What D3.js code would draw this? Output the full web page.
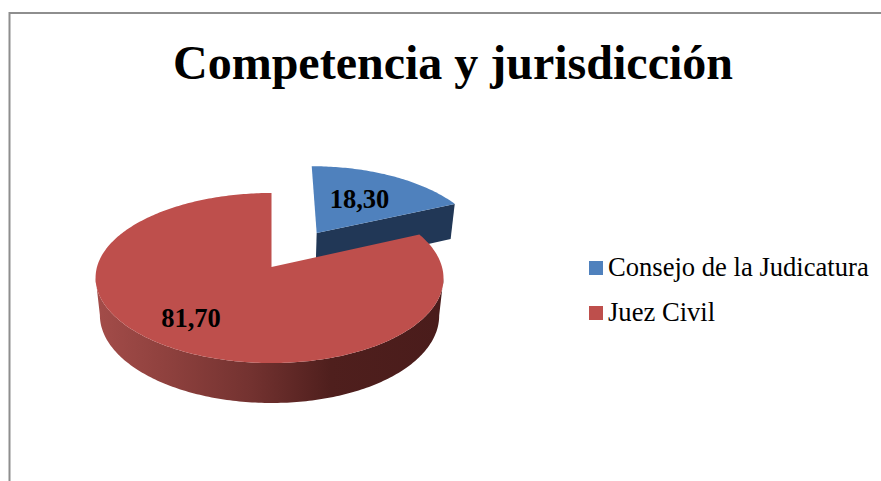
<!DOCTYPE html>
<html>
<head>
<meta charset="utf-8">
<script src="https://cdn.jsdelivr.net/npm/d3@7"></script>
<style>html,body{margin:0;padding:0;background:#fff;overflow:hidden}svg{display:block}text{font-family:"Liberation Serif",serif;fill:#000}</style>
</head>
<body>
<svg id="c" width="881" height="481"></svg>
<script>
const titleText = "Competencia y jurisdicción";
const categories = ["Consejo de la Judicatura", "Juez Civil"];
const values = [18.3, 81.7];
const valueLabels = ["18,30", "81,70"];
const topColors = ["#4F81BD", "#BE4F4C"];
const explode = [0.51, 0];

const svg = d3.select("#c");
const defs = svg.append("defs");
const grad = defs.append("linearGradient").attr("id", "redWall")
  .attr("gradientUnits", "userSpaceOnUse").attr("x1", 97).attr("x2", 440).attr("y1", 0).attr("y2", 0);
[[0, "#A34C49"], [0.2, "#8F413E"], [0.45, "#733230"], [0.68, "#4F1F1D"], [1, "#4A1C1B"]]
  .forEach(s => grad.append("stop").attr("offset", s[0]).attr("stop-color", s[1]));

// frame
svg.append("path").attr("d", "M9.5,481V13H881").attr("fill", "none").attr("stroke", "#8E8E8E").attr("stroke-width", 2);

// perspective projection of the pie plane
const x0 = 269.5, y0 = 267, cX = 172.5, aY = 83.6, persp = 0.1294, lower = 0.025, H = 38.2, skew = 2;
function project(X, Y, bottom) {
  const den = 1 + persp * Y + (bottom ? lower : 0);
  const s = skew * Math.max(0, 1 - X * X);
  return [x0 + s + cX * X / den, y0 + (-aY * Y + (bottom ? H : 0)) / den];
}

const pie = d3.pie().sort(null).startAngle(0).endAngle(2 * Math.PI);
const arcs = pie(values);
const line = d3.line();
function rim(d, ox, oy, bottom) {
  const n = Math.max(2, Math.ceil((d.endAngle - d.startAngle) * 60));
  return d3.range(n + 1).map(i => {
    const t = d.startAngle + (d.endAngle - d.startAngle) * i / n;
    return project(ox + Math.sin(t), oy + Math.cos(t), bottom);
  });
}
function offset(d, i) {
  const m = (d.startAngle + d.endAngle) / 2;
  return [explode[i] * Math.sin(m), explode[i] * Math.cos(m)];
}

// blue slice
(function () {
  const d = arcs[0], [ox, oy] = offset(d, 0);
  const top = rim(d, ox, oy, false), bot = rim(d, ox, oy, true);
  const endT = top[top.length - 1], endB = bot[bot.length - 1];
  svg.append("path").attr("d", line([project(ox, oy, false), endT, endB, project(ox, oy, true)]) + "Z").attr("fill", "#213756");
  svg.append("path").attr("d", line([project(ox, oy, false)].concat(top)) + "Z").attr("fill", topColors[0]);
})();

// red slice: the wall runs between the rim's rightmost and leftmost points
(function () {
  const d = arcs[1], [ox, oy] = offset(d, 1);
  const top = rim(d, ox, oy, false), bot = rim(d, ox, oy, true);
  const r = d3.greatestIndex(top, p => p[0]), l = d3.leastIndex(top, p => p[0]);
  const wall = top.slice(r, l + 1).concat(bot.slice(r, l + 1).reverse());
  svg.append("path").attr("d", line(wall) + "Z").attr("fill", "url(#redWall)");
  svg.append("path").attr("d", line([project(ox, oy, false)].concat(top)) + "Z").attr("fill", topColors[1]);
})();

// title
svg.append("text").attr("x", 453).attr("y", 79).attr("text-anchor", "middle")
  .attr("font-size", 48).attr("font-weight", "bold").text(titleText);

// value labels
const labelPos = [[359.5, 208], [191, 327]];
valueLabels.forEach((t, i) => svg.append("text").attr("x", labelPos[i][0]).attr("y", labelPos[i][1])
  .attr("text-anchor", "middle").attr("font-size", 26.5).attr("font-weight", "bold").text(t));

// legend
const legendY = d3.scalePoint().domain(categories).range([261, 306]);
categories.forEach((c, i) => {
  svg.append("rect").attr("x", 589).attr("y", legendY(c)).attr("width", 14).attr("height", 14).attr("fill", topColors[i]);
  svg.append("text").attr("x", 608).attr("y", legendY(c) + 15).attr("font-size", 26.6).text(c);
});
</script>
</body>
</html>
